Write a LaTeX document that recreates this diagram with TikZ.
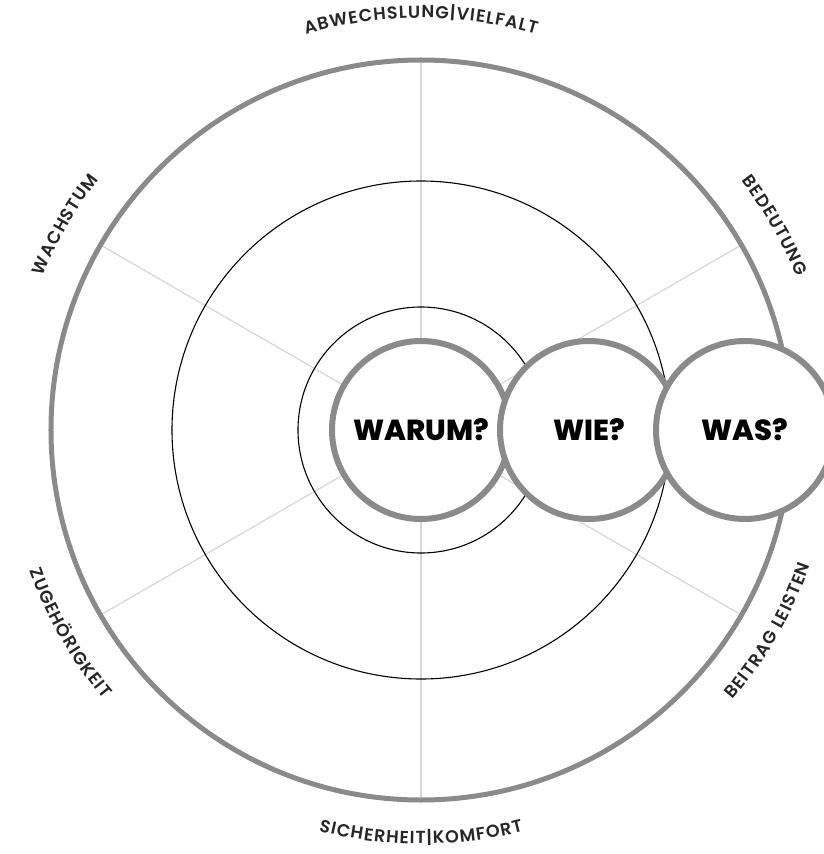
\documentclass[tikz,border=0pt]{standalone}
\usepackage{fontspec}
\newfontfamily\labelfamily{Poppins SemiBold}
\newfontfamily\bubblefamily{Poppins ExtraBold}
\usetikzlibrary{decorations.text}

\definecolor{ringgray}{HTML}{8A8A8A}
\definecolor{spokegray}{HTML}{D6D6D6}
\definecolor{labelgray}{HTML}{262626}

\newcommand\labelfont{\labelfamily\fontsize{17.5}{19}\selectfont}

\tikzset{
    ring/.style={draw=ringgray, line width=5pt},
    thinring/.style={draw=black, line width=1.1pt},
    spoke/.style={draw=spokegray, line width=1.2pt},
    bubble/.style={circle, draw=ringgray, line width=6pt, fill=white,
        minimum size=178pt, inner sep=0pt,
        font=\bubblefamily\fontsize{29}{34}\selectfont},
    arclabel/.style={font=\labelfont, decorate, decoration={text effects along path,
        text align=center, text effects/.cd, text along path,
        character widths={font=\labelfont, inner xsep=0.5pt},
        characters={font=\labelfont, text=labelgray}}}
}

\begin{document}
\begin{tikzpicture}[x=1pt, y=1pt]
    \useasboundingbox (-421,-424) rectangle (402,430);
    \coordinate (c) at (0,0);
    % spokes
    \foreach \a in {30,90,...,330}
        \draw[spoke] (c) -- (\a:370);
    % rings
    \draw[thinring] (c) circle (123);
    \draw[thinring] (c) circle (249);
    \draw[ring] (c) circle (370);
    % labels, outside: read clockwise
    \path[arclabel, decoration={text={ABWECHSLUNG{|}VIELFALT}}]
        (130:412) arc[start angle=130, end angle=50, radius=412pt];
    \path[arclabel, decoration={text={BEDEUTUNG}}]
        (70:406) arc[start angle=70, end angle=-10, radius=406pt];
    \path[arclabel, decoration={text={WACHSTUM}}]
        (190:408) arc[start angle=190, end angle=110, radius=408pt];
    % labels, outside: read counter-clockwise
    \path[arclabel, decoration={text={SICHERHEIT{|}KOMFORT}}]
        (230:414) arc[start angle=230, end angle=310, radius=414pt];
    \path[arclabel, decoration={text={ZUGEHÖRIGKEIT}}]
        (165:416) arc[start angle=165, end angle=255, radius=416pt];
    \path[arclabel, decoration={text={BEITRAG LEISTEN}}]
        (285:412) arc[start angle=285, end angle=375, radius=412pt];
    % bubbles
    \node[bubble] (warum) at (c) {WARUM?};
    \node[bubble] (wie) at (168,0) {WIE?};
    \node[bubble] (was) at (324,0) {WAS?};
\end{tikzpicture}
\end{document}
